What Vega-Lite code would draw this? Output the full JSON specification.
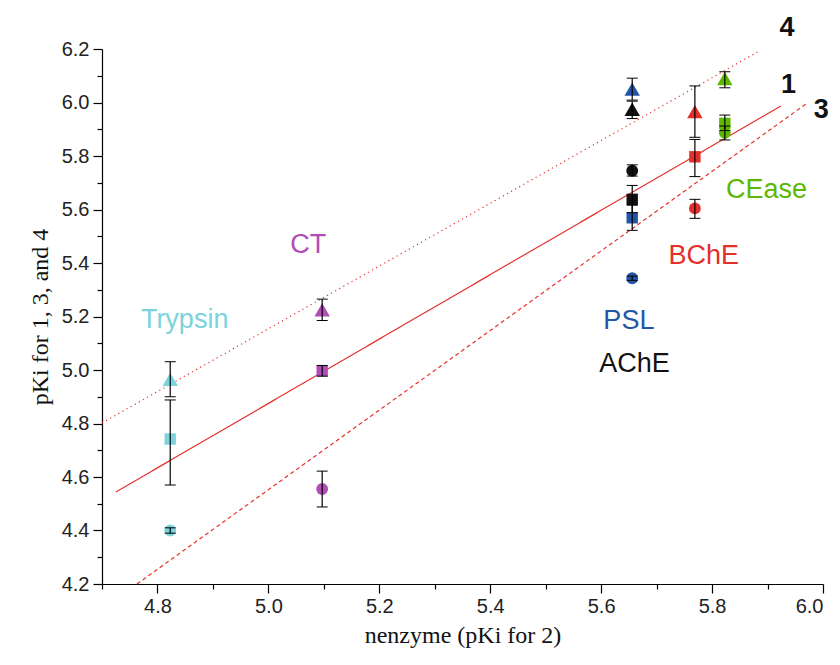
{
  "$schema": "https://vega.github.io/schema/vega-lite/v6.json",
  "width": 721,
  "height": 535,
  "autosize": {"type": "none"},
  "padding": {"left": 102, "top": 49, "right": 17, "bottom": 81},
  "background": "white",
  "config": {
    "view": {"stroke": null},
    "axis": {
      "grid": false,
      "domainColor": "#000",
      "domainWidth": 1.2,
      "tickColor": "#000",
      "tickWidth": 1.2,
      "labelFont": "Liberation Sans",
      "labelFontSize": 20,
      "labelColor": "#222",
      "titleFont": "Liberation Serif",
      "titleFontSize": 24,
      "titleFontWeight": "normal",
      "titleColor": "#111"
    }
  },
  "datasets": {
    "points": [
      {"enzyme": "Trypsin", "cmpd": "4", "x": 4.823, "y": 4.965, "lo": 4.900, "hi": 5.031},
      {"enzyme": "Trypsin", "cmpd": "1", "x": 4.823, "y": 4.742, "lo": 4.570, "hi": 4.888},
      {"enzyme": "Trypsin", "cmpd": "3", "x": 4.823, "y": 4.400, "lo": 4.390, "hi": 4.410},
      {"enzyme": "CT", "cmpd": "4", "x": 5.097, "y": 5.225, "lo": 5.185, "hi": 5.265},
      {"enzyme": "CT", "cmpd": "1", "x": 5.097, "y": 4.997, "lo": 4.977, "hi": 5.017},
      {"enzyme": "CT", "cmpd": "3", "x": 5.097, "y": 4.555, "lo": 4.488, "hi": 4.622},
      {"enzyme": "AChE", "cmpd": "4", "x": 5.656, "y": 5.975, "lo": 5.940, "hi": 6.005},
      {"enzyme": "AChE", "cmpd": "1", "x": 5.656, "y": 5.638, "lo": 5.588, "hi": 5.690},
      {"enzyme": "AChE", "cmpd": "3", "x": 5.656, "y": 5.745, "lo": 5.725, "hi": 5.767},
      {"enzyme": "PSL", "cmpd": "4", "x": 5.656, "y": 6.050, "lo": 6.009, "hi": 6.091},
      {"enzyme": "PSL", "cmpd": "1", "x": 5.656, "y": 5.569, "lo": 5.522, "hi": 5.616},
      {"enzyme": "PSL", "cmpd": "3", "x": 5.656, "y": 5.343, "lo": 5.335, "hi": 5.351},
      {"enzyme": "BChE", "cmpd": "4", "x": 5.769, "y": 5.966, "lo": 5.870, "hi": 6.062},
      {"enzyme": "BChE", "cmpd": "1", "x": 5.769, "y": 5.797, "lo": 5.723, "hi": 5.862},
      {"enzyme": "BChE", "cmpd": "3", "x": 5.769, "y": 5.604, "lo": 5.567, "hi": 5.638},
      {"enzyme": "CEase", "cmpd": "4", "x": 5.823, "y": 6.090, "lo": 6.055, "hi": 6.115},
      {"enzyme": "CEase", "cmpd": "1", "x": 5.823, "y": 5.922, "lo": 5.895, "hi": 5.953},
      {"enzyme": "CEase", "cmpd": "3", "x": 5.823, "y": 5.887, "lo": 5.860, "hi": 5.912}
    ],
    "lines": [
      {"series": "1", "x": 4.725, "y": 4.544},
      {"series": "1", "x": 5.924, "y": 5.987},
      {"series": "4", "x": 4.700, "y": 4.802},
      {"series": "4", "x": 5.883, "y": 6.190},
      {"series": "3", "x": 4.763, "y": 4.200},
      {"series": "3", "x": 5.973, "y": 6.000}
    ],
    "enzLabels": [
      {"enzyme": "Trypsin", "x": 4.849, "y": 5.187},
      {"enzyme": "CT", "x": 5.072, "y": 5.467},
      {"enzyme": "PSL", "x": 5.650, "y": 5.183},
      {"enzyme": "AChE", "x": 5.660, "y": 5.022},
      {"enzyme": "BChE", "x": 5.785, "y": 5.426},
      {"enzyme": "CEase", "x": 5.898, "y": 5.673}
    ],
    "numLabels": [
      {"label": "4", "x": 5.935, "y": 6.279},
      {"label": "1", "x": 5.938, "y": 6.065},
      {"label": "3", "x": 5.997, "y": 5.972}
    ]
  },
  "encoding": {
    "x": {
      "field": "x",
      "type": "quantitative",
      "scale": {"domain": [4.7, 6.0], "nice": false, "zero": false},
      "axis": {
        "title": "nenzyme (pKi for 2)",
        "values": [4.7, 4.8, 4.9, 5.0, 5.1, 5.2, 5.3, 5.4, 5.5, 5.6, 5.7, 5.8, 5.9, 6.0],
        "labelExpr": "round(datum.value*10) % 2 == 0 ? format(datum.value, '.1f') : ''",
        "tickSize": {"condition": {"test": "round(datum.value*10) % 2 == 0", "value": 9}, "value": 5},
        "labelPadding": 3,
        "titlePadding": 7
      }
    },
    "y": {
      "field": "y",
      "type": "quantitative",
      "scale": {"domain": [4.2, 6.2], "nice": false, "zero": false},
      "axis": {
        "title": "pKi for 1, 3, and 4",
        "values": [4.2, 4.3, 4.4, 4.5, 4.6, 4.7, 4.8, 4.9, 5.0, 5.1, 5.2, 5.3, 5.4, 5.5, 5.6, 5.7, 5.8, 5.9, 6.0, 6.1, 6.2],
        "labelExpr": "round(datum.value*10) % 2 == 0 ? format(datum.value, '.1f') : ''",
        "tickSize": {"condition": {"test": "round(datum.value*10) % 2 == 0", "value": 9}, "value": 5},
        "labelPadding": 4,
        "titlePadding": 9
      }
    },
    "color": {
      "field": "enzyme",
      "type": "nominal",
      "scale": {
        "domain": ["Trypsin", "CT", "PSL", "AChE", "BChE", "CEase"],
        "range": ["#7dd3dc", "#b24db8", "#2456a6", "#111111", "#e3302a", "#5cb800"]
      },
      "legend": null
    }
  },
  "layer": [
    {
      "data": {"name": "lines"},
      "mark": {"type": "line", "color": "#e5312b", "strokeWidth": 1.2},
      "encoding": {
        "color": {"value": "#e5312b"},
        "detail": {"field": "series"},
        "strokeDash": {
          "field": "series",
          "type": "nominal",
          "scale": {"domain": ["1", "3", "4"], "range": [[1, 0], [4, 3], [1.2, 3.5]]},
          "legend": null
        }
      }
    },
    {
      "data": {"name": "points"},
      "transform": [{"filter": "datum.cmpd == '1'"}],
      "mark": {"type": "point", "shape": "square", "filled": true, "opacity": 1, "size": 130}
    },
    {
      "data": {"name": "points"},
      "transform": [{"filter": "datum.cmpd == '3'"}],
      "mark": {"type": "point", "shape": "circle", "filled": true, "opacity": 1, "size": 140}
    },
    {
      "data": {"name": "points"},
      "transform": [{"filter": "datum.cmpd == '4'"}],
      "mark": {"type": "point", "shape": "triangle-up", "filled": true, "opacity": 1, "size": 240}
    },
    {
      "data": {"name": "points"},
      "mark": {
        "type": "errorbar",
        "ticks": {"size": 11, "color": "#000", "strokeWidth": 1.2, "opacity": 1},
        "rule": {"color": "#000", "strokeWidth": 1.2, "opacity": 1}
      },
      "encoding": {
        "color": {"value": "#000"},
        "y": {
          "field": "lo",
          "type": "quantitative",
          "scale": {"domain": [4.2, 6.2], "nice": false, "zero": false},
          "title": "pKi for 1, 3, and 4"
        },
        "y2": {"field": "hi"}
      }
    },
    {
      "data": {"name": "enzLabels"},
      "mark": {"type": "text", "font": "Liberation Sans", "fontSize": 27, "align": "center", "baseline": "middle"},
      "encoding": {
        "text": {"field": "enzyme"}
      }
    },
    {
      "data": {"name": "numLabels"},
      "mark": {"type": "text", "font": "Liberation Sans", "fontSize": 27, "fontWeight": "bold", "align": "center", "baseline": "middle"},
      "encoding": {
        "color": {"value": "#111"},
        "text": {"field": "label"}
      }
    }
  ]
}
